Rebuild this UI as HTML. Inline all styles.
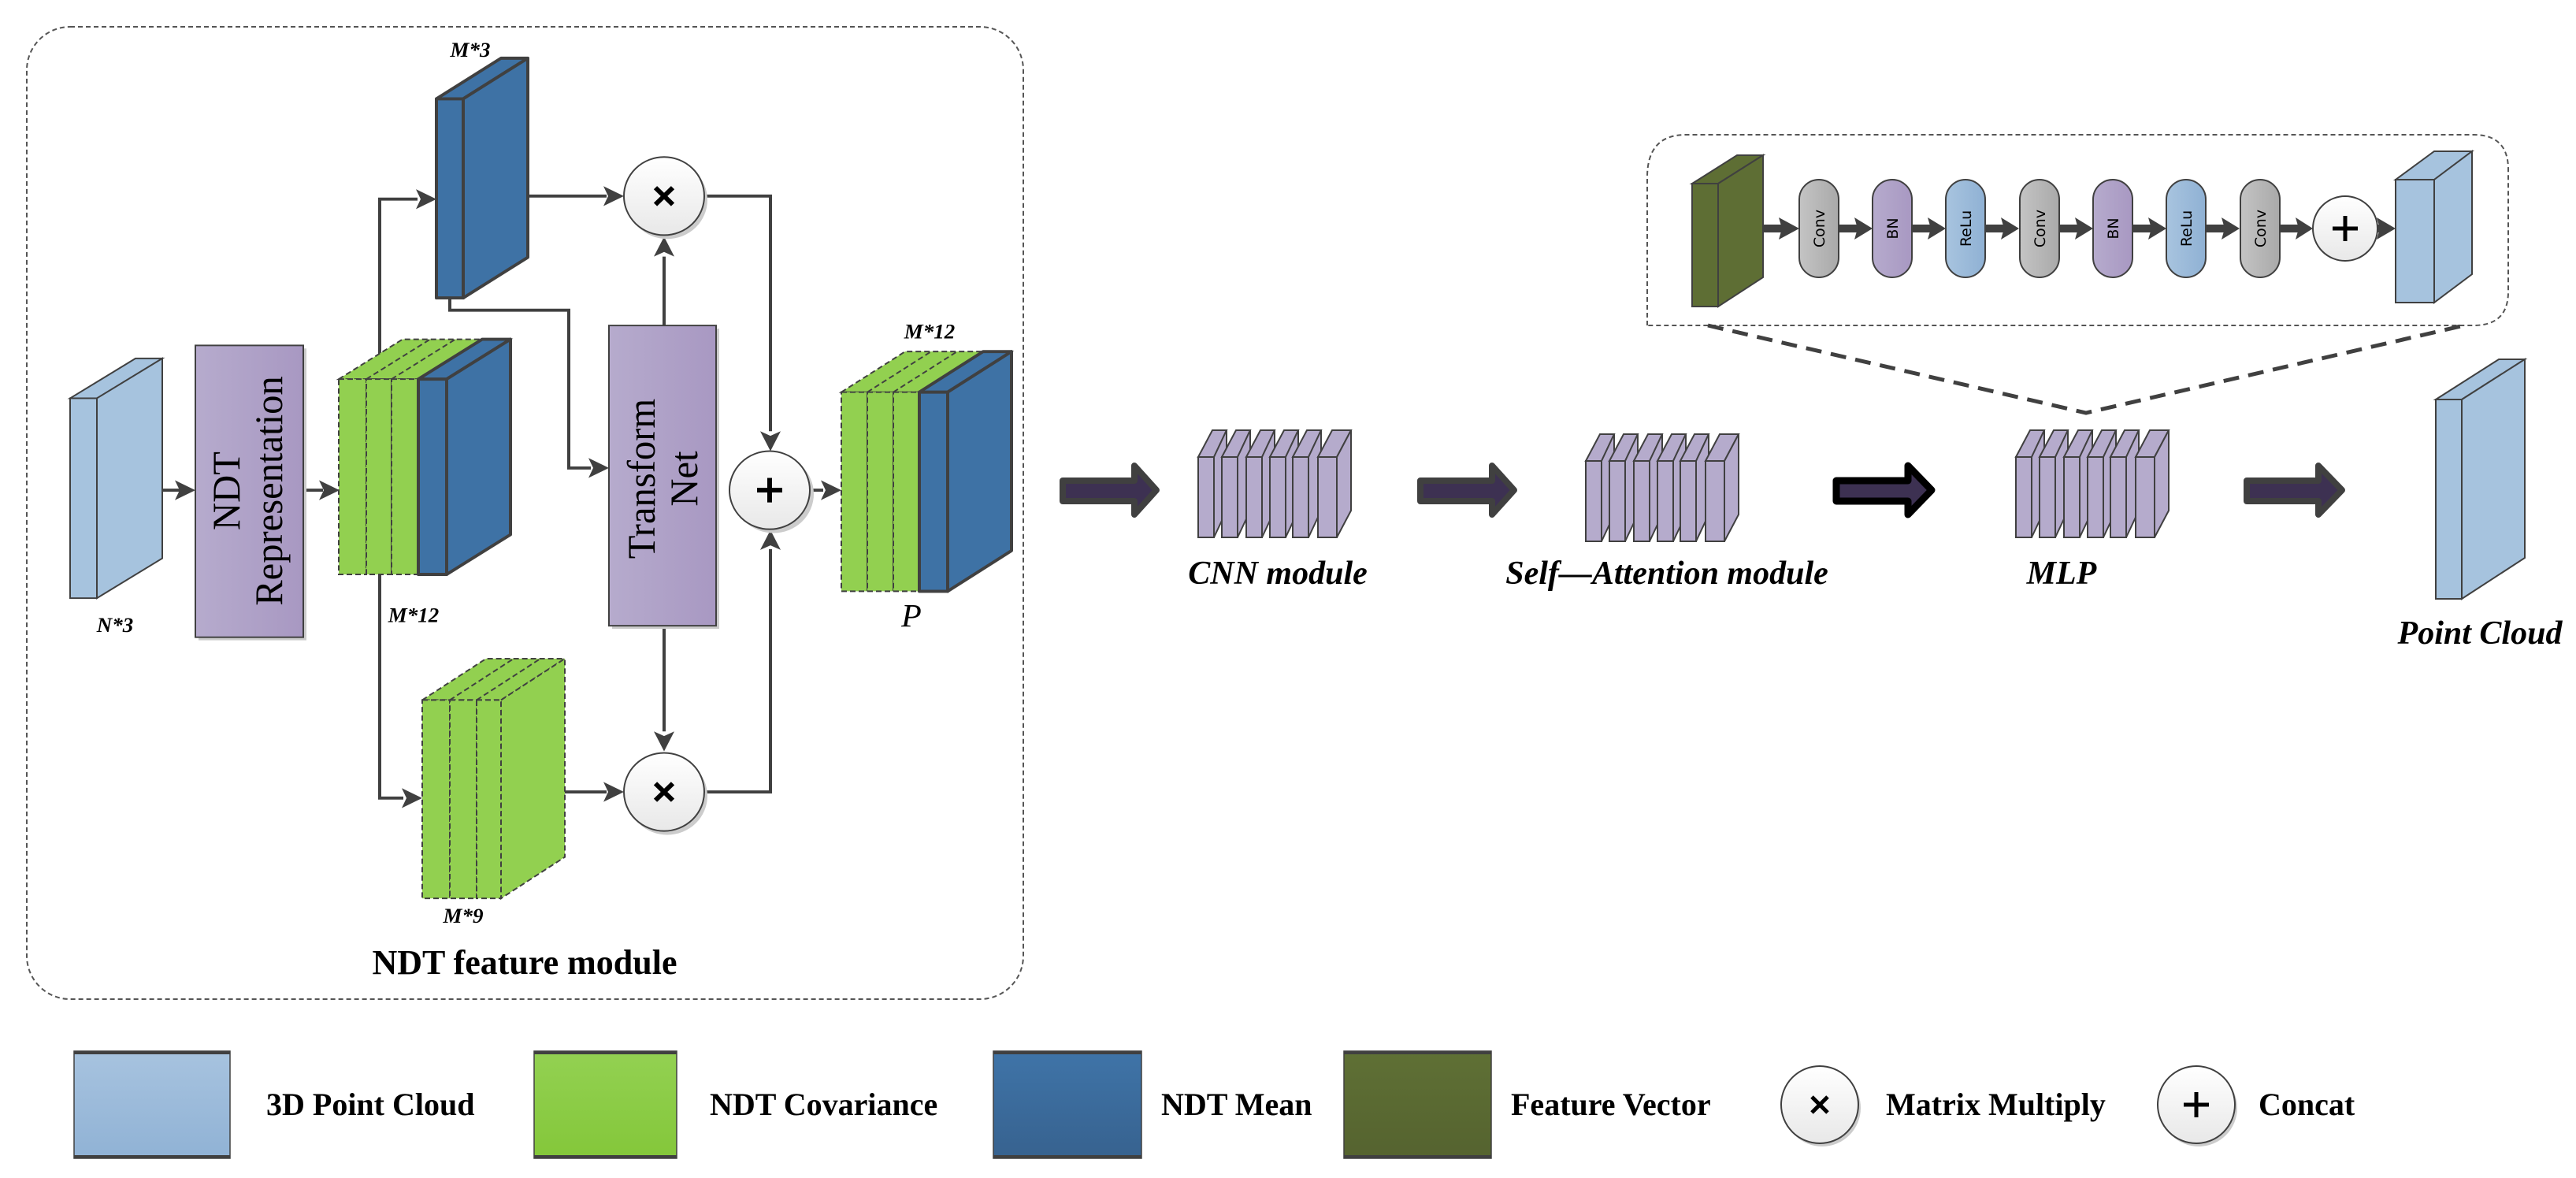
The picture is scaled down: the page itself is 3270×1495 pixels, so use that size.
<!DOCTYPE html>
<html><head><meta charset="utf-8"><style>
html,body{margin:0;padding:0;background:#fff;}
svg{display:block;}
.lbl{font-family:"Liberation Serif",serif;font-weight:bold;font-style:italic;}
.leg{font-family:"Liberation Serif",serif;font-weight:bold;font-size:40px;}
.pill{font-family:"DejaVu Sans","Liberation Sans",sans-serif;font-size:19px;}
</style></head><body>
<svg width="3270" height="1495" viewBox="0 0 3270 1495" xmlns="http://www.w3.org/2000/svg">
<defs>
<linearGradient id="gp" x1="0" x2="1"><stop offset="0" stop-color="#b6abcd"/><stop offset="1" stop-color="#a898c2"/></linearGradient>
<linearGradient id="gc" x1="0" x2="0" y1="0" y2="1"><stop offset="0" stop-color="#ffffff"/><stop offset="1" stop-color="#e8e8e8"/></linearGradient>
<linearGradient id="gray" x1="0" x2="1"><stop offset="0" stop-color="#c4c4c4"/><stop offset="1" stop-color="#a9a9a9"/></linearGradient>
<linearGradient id="lb" x1="0" x2="1"><stop offset="0" stop-color="#a8c4df"/><stop offset="1" stop-color="#8fb1d4"/></linearGradient>
<linearGradient id="l1" x1="0" x2="0" y1="0" y2="1"><stop offset="0" stop-color="#a7c3df"/><stop offset="1" stop-color="#90b2d5"/></linearGradient>
<linearGradient id="l2" x1="0" x2="0" y1="0" y2="1"><stop offset="0" stop-color="#93d152"/><stop offset="1" stop-color="#84c73a"/></linearGradient>
<linearGradient id="l3" x1="0" x2="0" y1="0" y2="1"><stop offset="0" stop-color="#3f74a8"/><stop offset="1" stop-color="#37628f"/></linearGradient>
<linearGradient id="l4" x1="0" x2="0" y1="0" y2="1"><stop offset="0" stop-color="#5f7035"/><stop offset="1" stop-color="#55632f"/></linearGradient>
</defs>

<!-- outer dashed box -->
<rect x="34" y="34" width="1265" height="1234" rx="55" fill="none" stroke="#555" stroke-width="2" stroke-dasharray="6,4"/>

<g transform="matrix(1 0 0 0.972 0 0)">
<g stroke="#404040" stroke-width="4" fill="none">
<polyline points="206,640 230,640"/>
<polyline points="385,640 410,640"/>
<polyline points="482,495 482,260 530,260"/>
<polyline points="670,256 770,256"/>
<polyline points="571,389 571,405 722,405 722,611 750,611"/>
<polyline points="843,425 843,335"/>
<polyline points="843,817 843,955"/>
<polyline points="482,750 482,1042 512,1042"/>
<polyline points="717,1034 770,1034"/>
<polyline points="894,256 978,256 978,563"/>
<polyline points="894,1034 978,1034 978,717"/>
<polyline points="1028,640 1045,640"/>
</g>
<g fill="#404040">
<polygon points="248,640 222,627 228,640 222,653"/>
<polygon points="431,640 405,627 411,640 405,653"/>
<polygon points="554,260 528,247 534,260 528,273"/>
<polygon points="792,256 766,243 772,256 766,269"/>
<polygon points="773,611 747,598 753,611 747,624"/>
<polygon points="843,309 830,335 843,329 856,335"/>
<polygon points="843,981 830,955 843,961 856,955"/>
<polygon points="536,1042 510,1029 516,1042 510,1055"/>
<polygon points="792,1034 766,1021 772,1034 766,1047"/>
<polygon points="978,589 965,563 978,569 991,563"/>
<polygon points="978,692 965,718 978,712 991,718"/>
<polygon points="1068,640 1042,627 1048,640 1042,653"/>
</g>

<g stroke="#404040" stroke-width="2" fill="#a6c3de">
<polygon points="89,520 172,468 206,468 123,520"/>
<polygon points="123,520 206,468 206,729 123,781"/>
<rect x="89" y="520" width="34" height="261"/>
</g>
<text class="lbl" x="146" y="825" font-size="27" text-anchor="middle">N*3</text>

<rect x="252" y="455" width="137" height="381" fill="#ccc"/>
<rect x="248" y="451" width="137" height="381" fill="url(#gp)" stroke="#404040" stroke-width="2"/>
<g transform="translate(316,641) rotate(-90)" font-family="Liberation Serif,serif" font-size="50" text-anchor="middle">
<text x="0" y="-12">NDT</text><text x="0" y="42">Representation</text>
</g>

<g fill="#92d050" stroke="#404040" stroke-width="2" stroke-dasharray="7,4">
<polygon points="430,495 511,443 648,443 567,495"/>
<rect x="430" y="495" width="35" height="255"/>
<rect x="465" y="495" width="32" height="255"/>
<rect x="497" y="495" width="33" height="255"/>
<line x1="465" y1="495" x2="546" y2="443"/>
<line x1="497" y1="495" x2="578" y2="443"/>
</g>
<g fill="#3e72a5" stroke="#404040" stroke-width="4" stroke-linejoin="round">
<polygon points="531,495 612,443 648,443 567,495"/>
<polygon points="567,495 648,443 648,698 567,750"/>
<rect x="531" y="495" width="36" height="255"/>
</g>
<text class="lbl" x="525" y="812" font-size="27" text-anchor="middle">M*12</text>

<g fill="#3e72a5" stroke="#404040" stroke-width="4" stroke-linejoin="round">
<polygon points="554,129 636,76 670,76 588,129"/>
<polygon points="588,129 670,76 670,336 588,389"/>
<rect x="554" y="129" width="34" height="260"/>
</g>
<text class="lbl" x="597" y="74" font-size="27" text-anchor="middle">M*3</text>

<g fill="#92d050" stroke="#404040" stroke-width="2" stroke-dasharray="7,4">
<polygon points="536,914 617,860 717,860 636,914"/>
<polygon points="636,914 717,860 717,1119 636,1173"/>
<rect x="536" y="914" width="35" height="259"/>
<rect x="571" y="914" width="34" height="259"/>
<rect x="605" y="914" width="31" height="259"/>
<line x1="571" y1="914" x2="652" y2="860"/>
<line x1="605" y1="914" x2="686" y2="860"/>
</g>
<text class="lbl" x="588" y="1205" font-size="27" text-anchor="middle">M*9</text>

<rect x="777" y="429" width="136" height="392" fill="#ccc"/>
<rect x="773" y="425" width="136" height="392" fill="url(#gp)" stroke="#404040" stroke-width="2"/>
<g transform="translate(843,625) rotate(-90)" font-family="Liberation Serif,serif" font-size="50" text-anchor="middle">
<text x="0" y="-12">Transform</text><text x="0" y="42">Net</text>
</g>

<g stroke="#404040" stroke-width="2">
<circle cx="847" cy="261" r="51" fill="#ccc" stroke="none"/>
<circle cx="843" cy="256" r="51" fill="url(#gc)"/>
<circle cx="847" cy="1039" r="51" fill="#ccc" stroke="none"/>
<circle cx="843" cy="1034" r="51" fill="url(#gc)"/>
<circle cx="982" cy="645" r="51" fill="#ccc" stroke="none"/>
<circle cx="977" cy="640" r="51" fill="url(#gc)"/>
</g>
<g stroke="#000" stroke-width="6">
<line x1="832" y1="245" x2="854" y2="267"/><line x1="854" y1="245" x2="832" y2="267"/>
<line x1="832" y1="1023" x2="854" y2="1045"/><line x1="854" y1="1023" x2="832" y2="1045"/>
<line x1="977" y1="624" x2="977" y2="656"/><line x1="961" y1="640" x2="993" y2="640"/>
</g>

<g fill="#92d050" stroke="#404040" stroke-width="2" stroke-dasharray="7,4">
<polygon points="1068,512 1149,459 1284,459 1203,512"/>
<rect x="1068" y="512" width="33" height="260"/>
<rect x="1101" y="512" width="33" height="260"/>
<rect x="1134" y="512" width="33" height="260"/>
<line x1="1101" y1="512" x2="1182" y2="459"/>
<line x1="1134" y1="512" x2="1215" y2="459"/>
</g>
<g fill="#3e72a5" stroke="#404040" stroke-width="4" stroke-linejoin="round">
<polygon points="1167,512 1248,459 1284,459 1203,512"/>
<polygon points="1203,512 1284,459 1284,719 1203,772"/>
<rect x="1167" y="512" width="36" height="260"/>
</g>
<text class="lbl" x="1180" y="442" font-size="27" text-anchor="middle">M*12</text>
<text x="1157" y="818" font-family="Liberation Serif,serif" font-style="italic" font-size="42" text-anchor="middle">P</text>
</g>

<text x="666" y="1236" font-family="Liberation Serif,serif" font-weight="bold" font-size="44" text-anchor="middle">NDT feature module</text>

<!-- big arrows -->
<g stroke="#404040" stroke-width="8" stroke-linejoin="round" fill="#3d3152">
<polygon points="1349,610 1440,610 1440,591 1468,622 1440,653 1440,636 1349,636"/>
<polygon points="1803,610 1894,610 1894,591 1922,622 1894,653 1894,636 1803,636"/>
<polygon points="2852,610 2943,610 2943,591 2973,622 2943,653 2943,636 2852,636"/>
</g>
<polygon points="2331,610 2422,610 2422,591 2452,622 2422,653 2422,636 2331,636" stroke="#000" stroke-width="9" stroke-linejoin="round" fill="#3d3152"/>

<g id="stk" fill="#b5abcc" stroke="#404040" stroke-width="2">
<polygon points="1521,580 1539,546 1557,546 1541,580"/><polygon points="1541,580 1557,546 1557,648 1541,682"/><rect x="1521" y="580" width="20" height="102"/>
<polygon points="1551,580 1569,546 1587,546 1571,580"/><polygon points="1571,580 1587,546 1587,648 1571,682"/><rect x="1551" y="580" width="20" height="102"/>
<polygon points="1582,580 1600,546 1618,546 1602,580"/><polygon points="1602,580 1618,546 1618,648 1602,682"/><rect x="1582" y="580" width="20" height="102"/>
<polygon points="1612,580 1630,546 1648,546 1632,580"/><polygon points="1632,580 1648,546 1648,648 1632,682"/><rect x="1612" y="580" width="20" height="102"/>
<polygon points="1641,580 1659,546 1677,546 1661,580"/><polygon points="1661,580 1677,546 1677,648 1661,682"/><rect x="1641" y="580" width="20" height="102"/>
<polygon points="1673,580 1691,546 1715,546 1697,580"/><polygon points="1697,580 1715,546 1715,648 1697,682"/><rect x="1673" y="580" width="24" height="102"/>
</g>
<use href="#stk" transform="translate(492,5)"/>
<use href="#stk" transform="translate(1038,0)"/>
<text class="lbl" x="1622" y="741" font-size="42" text-anchor="middle">CNN module</text>
<text class="lbl" x="2116" y="741" font-size="42" text-anchor="middle">Self—Attention module</text>
<text class="lbl" x="2617" y="741" font-size="42" text-anchor="middle">MLP</text>

<g stroke="#404040" stroke-width="2" fill="#a6c3de">
<polygon points="3092,507 3172,456 3205,456 3125,507"/>
<polygon points="3125,507 3205,456 3205,708 3125,760"/>
<rect x="3092" y="507" width="33" height="253"/>
</g>
<text class="lbl" x="3148" y="817" font-size="42" text-anchor="middle">Point Cloud</text>

<path d="M2091,413 L2091,225 Q2091,171 2140,171 L3140,171 Q3184,171 3184,215 L3184,370 Q3184,413 3140,413 Z" fill="none" stroke="#555" stroke-width="2" stroke-dasharray="6,4"/>
<polyline points="2168,413 2648,524 3128,413" fill="none" stroke="#404040" stroke-width="5" stroke-dasharray="20,12"/>

<g stroke="#404040" stroke-width="2" fill="#5e6e34">
<polygon points="2148,233 2205,197 2238,197 2181,233"/>
<polygon points="2181,233 2238,197 2238,352 2181,389"/>
<rect x="2148" y="233" width="33" height="156"/>
</g>
<g fill="#404040">
<rect x="2238" y="285" width="30" height="10"/><polygon points="2284,290 2258,276 2262,290 2258,304"/>
</g>
<g id="ar" fill="#404040"><rect x="2334" y="285" width="30" height="10"/><polygon points="2377,290 2354,276 2358,290 2354,304"/></g>
<use href="#ar" transform="translate(93,0)"/>
<use href="#ar" transform="translate(186,0)"/>
<use href="#ar" transform="translate(280,0)"/>
<use href="#ar" transform="translate(373,0)"/>
<use href="#ar" transform="translate(466,0)"/>
<g fill="#404040"><rect x="2894" y="285" width="30" height="10"/><polygon points="2936,290 2914,276 2918,290 2914,304"/>
<rect x="3018" y="285" width="10" height="10"/><polygon points="3041,290 3017,276 3021,290 3017,304"/></g>

<g stroke="#404040" stroke-width="2">
<rect x="2284" y="228" width="50" height="124" rx="25" fill="url(#gray)"/>
<rect x="2377" y="228" width="50" height="124" rx="25" fill="url(#gp)"/>
<rect x="2470" y="228" width="50" height="124" rx="25" fill="url(#lb)"/>
<rect x="2564" y="228" width="50" height="124" rx="25" fill="url(#gray)"/>
<rect x="2657" y="228" width="50" height="124" rx="25" fill="url(#gp)"/>
<rect x="2750" y="228" width="50" height="124" rx="25" fill="url(#lb)"/>
<rect x="2844" y="228" width="50" height="124" rx="25" fill="url(#gray)"/>
<circle cx="2977" cy="290" r="41" fill="url(#gc)"/>
</g>
<g stroke="#000" stroke-width="5"><line x1="2977" y1="274" x2="2977" y2="306"/><line x1="2961" y1="290" x2="2993" y2="290"/></g>
<g class="pill" text-anchor="middle">
<text transform="translate(2316,290) rotate(-90)">Conv</text>
<text transform="translate(2409,290) rotate(-90)">BN</text>
<text transform="translate(2502,290) rotate(-90)">ReLu</text>
<text transform="translate(2596,290) rotate(-90)">Conv</text>
<text transform="translate(2689,290) rotate(-90)">BN</text>
<text transform="translate(2782,290) rotate(-90)">ReLu</text>
<text transform="translate(2876,290) rotate(-90)">Conv</text>
</g>
<g stroke="#404040" stroke-width="2" fill="#a6c3de">
<polygon points="3041,228 3090,192 3138,192 3090,228"/>
<polygon points="3090,228 3138,192 3138,348 3090,384"/>
<rect x="3041" y="228" width="49" height="156"/>
</g>

<g stroke="#404040" stroke-width="1.5">
<rect x="94" y="1334" width="198" height="136" fill="url(#l1)"/>
<rect x="678" y="1334" width="181" height="136" fill="url(#l2)"/>
<rect x="1261" y="1334" width="188" height="136" fill="url(#l3)"/>
<rect x="1706" y="1334" width="187" height="136" fill="url(#l4)"/>
</g>
<g fill="#404040">
<rect x="94" y="1334" width="198" height="4"/><rect x="94" y="1466" width="198" height="4"/>
<rect x="678" y="1334" width="181" height="4"/><rect x="678" y="1466" width="181" height="4"/>
<rect x="1261" y="1334" width="188" height="4"/><rect x="1261" y="1466" width="188" height="4"/>
<rect x="1706" y="1334" width="187" height="4"/><rect x="1706" y="1466" width="187" height="4"/>
</g>
<g stroke="#404040" stroke-width="2">
<circle cx="2313" cy="1406" r="49" fill="#ccc" stroke="none"/>
<circle cx="2310" cy="1402" r="49" fill="url(#gc)"/>
<circle cx="2791" cy="1406" r="49" fill="#ccc" stroke="none"/>
<circle cx="2788" cy="1402" r="49" fill="url(#gc)"/>
</g>
<g stroke="#000" stroke-width="5">
<line x1="2300" y1="1392" x2="2320" y2="1412"/><line x1="2320" y1="1392" x2="2300" y2="1412"/>
<line x1="2788" y1="1386" x2="2788" y2="1418"/><line x1="2772" y1="1402" x2="2804" y2="1402"/>
</g>
<g class="leg">
<text x="338" y="1415">3D Point Cloud</text>
<text x="901" y="1415">NDT Covariance</text>
<text x="1474" y="1415">NDT Mean</text>
<text x="1918" y="1415">Feature Vector</text>
<text x="2394" y="1415">Matrix Multiply</text>
<text x="2867" y="1415">Concat</text>
</g>
</svg>
</body></html>
